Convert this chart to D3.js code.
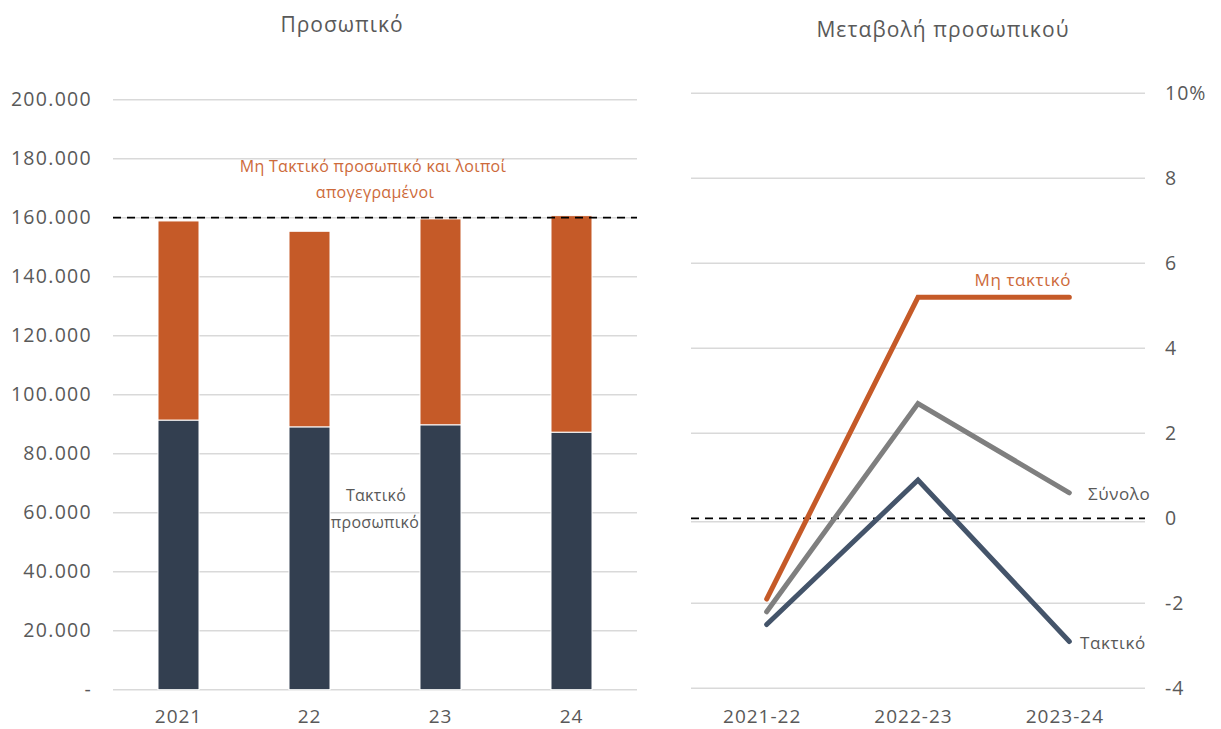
<!DOCTYPE html>
<html>
<head>
<meta charset="utf-8">
<script src="https://cdn.jsdelivr.net/npm/d3@7/dist/d3.min.js"></script>
<style>
  html, body { margin: 0; padding: 0; background: #fff; }
  svg { display: block; font-family: "Open Sans", "Noto Sans", sans-serif; }
</style>
</head>
<body>
<svg id="chart" width="1221" height="729"></svg>
<script>
// ---- Data ----
const years = ["2021", "22", "23", "24"];
const regularStaff = [91400, 89100, 89800, 87300];      // Τακτικό προσωπικό
const nonRegularStaff = [67500, 66300, 69800, 73400];   // Μη Τακτικό προσωπικό και λοιποί
const referenceLevel = 160000;
const leftTicks = [0, 20000, 40000, 60000, 80000, 100000, 120000, 140000, 160000, 180000, 200000];

const periods = ["2021-22", "2022-23", "2023-24"];
const changeNonRegular = [-1.9, 5.2, 5.2];
const changeTotal = [-2.2, 2.7, 0.6];
const changeRegular = [-2.5, 0.9, -2.9];
const rightTicks = [-4, -2, 0, 2, 4, 6, 8, 10];

const C_DARK = "#333f50", C_ORANGE = "#c55a28", C_GRAY = "#7f7f7f", C_BLUE = "#44546a";
const C_TEXT = "#595959", C_GRID = "#d9d9d9", C_ORANGE_TXT = "#cd6a3a";

const svg = d3.select("#chart");

// ---- Left chart ----
const xL = d3.scaleBand().domain(years).range([113, 637]).paddingInner(0.687).paddingOuter(0.3435);
const yL = d3.scaleLinear().domain([0, 200000]).range([689.7, 99.7]);
const fmt = v => v === 0 ? "-" : d3.format(",")(v).replace(/,/g, ".");

const gL = svg.append("g");
gL.append("text").attr("x", 342).attr("y", 32).attr("text-anchor", "middle")
  .attr("font-size", 21).attr("letter-spacing", 1).attr("fill", C_TEXT).text("Προσωπικό");

gL.selectAll("line.grid").data(leftTicks).join("line")
  .attr("x1", 113).attr("x2", 637)
  .attr("y1", d => yL(d)).attr("y2", d => yL(d))
  .attr("stroke", C_GRID).attr("stroke-width", 1.5);

const yAxisL = d3.axisLeft(yL).tickValues(leftTicks).tickFormat(fmt).tickSize(0).tickPadding(0);
const ya = gL.append("g").attr("transform", "translate(92,0)").call(yAxisL);
ya.select(".domain").remove();
ya.selectAll("text").attr("font-size", 19.5).attr("letter-spacing", 1.3)
  .attr("fill", C_TEXT).attr("font-family", "Open Sans");

const stackData = years.map((y, i) => ({ year: y, regular: regularStaff[i], nonRegular: nonRegularStaff[i] }));
const series = d3.stack().keys(["regular", "nonRegular"])(stackData);
const colorsL = { regular: C_DARK, nonRegular: C_ORANGE };
series.forEach(s => {
  gL.append("g").selectAll("rect").data(s).join("rect")
    .attr("x", d => xL(d.data.year))
    .attr("width", xL.bandwidth())
    .attr("y", d => yL(d[1]))
    .attr("height", d => yL(d[0]) - yL(d[1]))
    .attr("fill", colorsL[s.key])
    .attr("stroke", "#fff").attr("stroke-width", 1);
});

gL.append("line").attr("x1", 113).attr("x2", 637)
  .attr("y1", yL(referenceLevel)).attr("y2", yL(referenceLevel))
  .attr("stroke", "#000").attr("stroke-width", 1.8).attr("stroke-dasharray", "8,6");

const xa = gL.append("g").attr("transform", "translate(0,690)")
  .call(d3.axisBottom(xL).tickSize(0).tickPadding(20));
xa.select(".domain").remove();
xa.selectAll("text").attr("font-size", 19).attr("letter-spacing", 1)
  .attr("fill", C_TEXT).attr("font-family", "Open Sans");

gL.append("text").attr("x", 373).attr("y", 172).attr("text-anchor", "middle")
  .attr("font-size", 16).attr("letter-spacing", 0.3).attr("fill", C_ORANGE_TXT).text("Μη Τακτικό προσωπικό και λοιποί");
gL.append("text").attr("x", 375).attr("y", 198).attr("text-anchor", "middle")
  .attr("font-size", 16).attr("letter-spacing", 0.3).attr("fill", C_ORANGE_TXT).text("απογεγραμένοι");
gL.append("text").attr("x", 376).attr("y", 501).attr("text-anchor", "middle")
  .attr("font-size", 16).attr("letter-spacing", 0.3).attr("fill", C_TEXT).text("Τακτικό");
gL.append("text").attr("x", 375).attr("y", 528).attr("text-anchor", "middle")
  .attr("font-size", 16).attr("letter-spacing", 0.3).attr("fill", C_TEXT).text("προσωπικό");

// ---- Right chart ----
const xR = d3.scalePoint().domain(periods).range([691, 1145]).padding(0.5);
const yR = d3.scaleLinear().domain([-4, 10]).range([688.3, 93.3]);

const gR = svg.append("g");
gR.append("text").attr("x", 943).attr("y", 37).attr("text-anchor", "middle")
  .attr("font-size", 21).attr("letter-spacing", 1.1).attr("fill", C_TEXT).text("Μεταβολή προσωπικού");

gR.selectAll("line.grid").data(rightTicks).join("line")
  .attr("x1", 691).attr("x2", 1145)
  .attr("y1", d => yR(d) + (d === 0 ? 3.5 : 0)).attr("y2", d => yR(d) + (d === 0 ? 3.5 : 0))
  .attr("stroke", C_GRID).attr("stroke-width", 1.5);

const yAxisR = d3.axisRight(yR).tickValues(rightTicks)
  .tickFormat(d => d === 10 ? "10%" : String(d)).tickSize(0).tickPadding(0);
const yra = gR.append("g").attr("transform", "translate(1165,0)").call(yAxisR);
yra.select(".domain").remove();
yra.selectAll("text").attr("font-size", 19.5).attr("letter-spacing", 1)
  .attr("fill", C_TEXT).attr("font-family", "Open Sans");

const xra = gR.append("g").attr("transform", "translate(-5,690)")
  .call(d3.axisBottom(xR).tickSize(0).tickPadding(20));
xra.select(".domain").remove();
xra.selectAll("text").attr("font-size", 19).attr("letter-spacing", 1)
  .attr("fill", C_TEXT).attr("font-family", "Open Sans");

gR.append("line").attr("x1", 691).attr("x2", 1145)
  .attr("y1", yR(0)).attr("y2", yR(0))
  .attr("stroke", "#000").attr("stroke-width", 1.8).attr("stroke-dasharray", "8,6");

const line = d3.line().x((d, i) => xR(periods[i])).y(d => yR(d));
const lineSeries = [
  { values: changeTotal, color: C_GRAY },
  { values: changeRegular, color: C_BLUE },
  { values: changeNonRegular, color: C_ORANGE }
];
lineSeries.forEach(s => {
  gR.append("path").datum(s.values).attr("d", line)
    .attr("fill", "none").attr("stroke", s.color).attr("stroke-width", 5)
    .attr("stroke-linecap", "round").attr("stroke-linejoin", "miter");
});

gR.append("text").attr("x", 1071).attr("y", 286).attr("text-anchor", "end")
  .attr("font-size", 17).attr("letter-spacing", 0.6).attr("fill", C_ORANGE_TXT).text("Μη τακτικό");
gR.append("text").attr("x", 1088).attr("y", 500).attr("text-anchor", "start")
  .attr("font-size", 17).attr("letter-spacing", 0.6).attr("fill", C_TEXT).text("Σύνολο");
gR.append("text").attr("x", 1080).attr("y", 649).attr("text-anchor", "start")
  .attr("font-size", 17).attr("letter-spacing", 0.6).attr("fill", C_TEXT).text("Τακτικό");
</script>
</body>
</html>
